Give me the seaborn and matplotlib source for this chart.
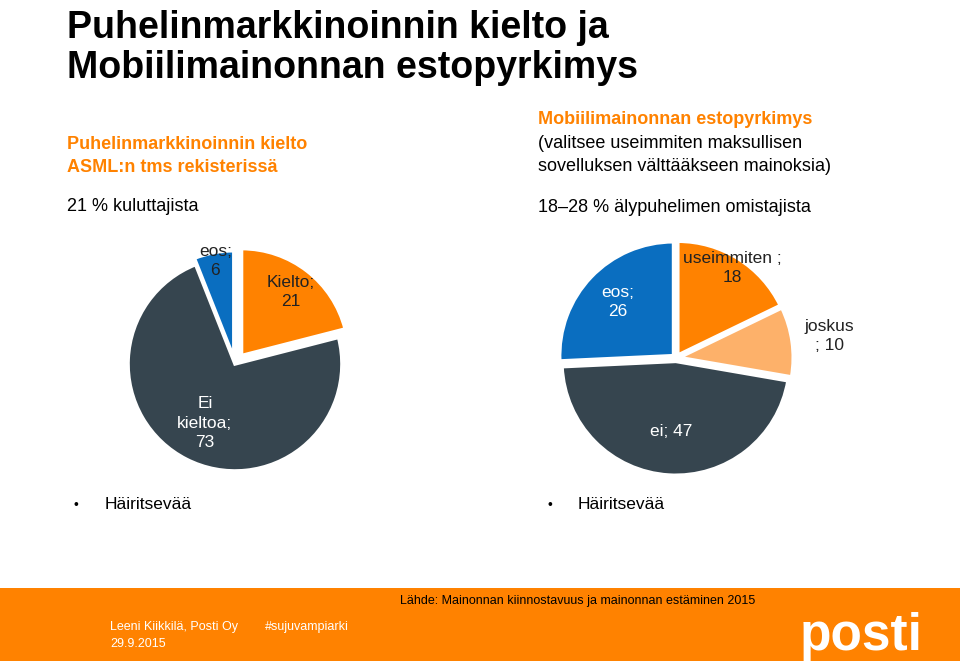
import matplotlib
matplotlib.use("Agg")
import matplotlib.pyplot as plt
from matplotlib.patches import Rectangle
import numpy as np
import seaborn as sns

# Data
ban_labels = ["Kielto", "Ei\nkieltoa", "eos"]
ban_values = [21, 73, 6]
block_labels = ["useimmiten ", "joskus\n", "ei", "eos"]
block_values = [18, 10, 47, 26]

ORANGE = "#FF8200"
LIGHT_ORANGE = "#FDB16A"
SLATE = "#36454F"
BLUE = "#0A6EC0"

sns.set_theme(style="white")
plt.rcParams["font.family"] = ["Liberation Sans", "DejaVu Sans"]

W, H = 960, 661
fig = plt.figure(figsize=(W / 100, H / 100), dpi=100)


def px_axes(cx, cy, size):
    # axes square centred at pixel (cx, cy) measured from top-left
    return fig.add_axes([(cx - size / 2) / W, (H - cy - size / 2) / H, size / W, size / H])


def draw_pie(ax, labels, values, colors, explode, label_r, label_colors, seps):
    wedges, _ = ax.pie(values, colors=colors, startangle=90, counterclock=False,
                       explode=explode,
                       wedgeprops=dict(edgecolor="white", linewidth=2.5))
    for w, lab, val, r, c, sep in zip(wedges, labels, values, label_r, label_colors, seps):
        ang = np.deg2rad((w.theta1 + w.theta2) / 2)
        cx, cy = w.center
        ax.text(cx + r * np.cos(ang), cy + r * np.sin(ang), f"{lab};{sep}{val}",
                ha="center", va="center", color=c, fontsize=12.5, linespacing=1.35)
    ax.set_xlim(-1.3, 1.3)
    ax.set_ylim(-1.3, 1.3)
    ax.set_aspect("equal")
    ax.axis("off")


ax1 = px_axes(235, 364, 278)
draw_pie(ax1, ban_labels, ban_values, [ORANGE, SLATE, BLUE],
         explode=[0.1, 0, 0.06], label_r=[0.75, 0.62, 0.92],
         label_colors=["#222222", "white", "#222222"], seps=["\n", "\n", "\n"])

ax2 = px_axes(676, 358, 296)
draw_pie(ax2, block_labels, block_values, [ORANGE, LIGHT_ORANGE, SLATE, BLUE],
         explode=[0.03, 0.03, 0.03, 0.03], label_r=[0.9, 1.33, 0.62, 0.68],
         label_colors=["#222222", "#222222", "white", "white"],
         seps=["\n", " ", " ", "\n"])

# Titles and texts
def ftext(x, y, s, **kw):
    fig.text(x / W, 1 - y / H, s, va="baseline", **kw)

ftext(67, 38, "Puhelinmarkkinoinnin kielto ja", fontsize=27, fontweight="bold",
      color="black")
ftext(67, 78, "Mobiilimainonnan estopyrkimys", fontsize=27, fontweight="bold",
      color="black")

ftext(67, 149, "Puhelinmarkkinoinnin kielto", fontsize=13, fontweight="bold", color=ORANGE)
ftext(67, 172, "ASML:n tms rekisterissä", fontsize=13, fontweight="bold", color=ORANGE)
ftext(67, 211, "21 % kuluttajista", fontsize=13, color="black")

ftext(538, 124, "Mobiilimainonnan estopyrkimys", fontsize=13, fontweight="bold", color=ORANGE)
ftext(538, 148, "(valitsee useimmiten maksullisen", fontsize=13, color="black")
ftext(538, 171, "sovelluksen välttääkseen mainoksia)", fontsize=13, color="black")
ftext(538, 212, "18\u201328 % älypuhelimen omistajista", fontsize=13, color="black")

ftext(74, 509, "\u2022", fontsize=10, color="black")
ftext(105, 509, "Häiritsevää", fontsize=12.5, color="black")
ftext(548, 509, "\u2022", fontsize=10, color="black")
ftext(578, 509, "Häiritsevää", fontsize=12.5, color="black")

# Footer band
fig.patches.append(Rectangle((0, 0), 1, 73 / H, transform=fig.transFigure,
                             facecolor=ORANGE, edgecolor="none", zorder=0))
ftext(400, 604, "Lähde: Mainonnan kiinnostavuus ja mainonnan estäminen 2015",
      fontsize=9, color="black")
ftext(110, 630, "Leeni Kiikkilä, Posti Oy", fontsize=9, color="white")
ftext(265, 630, "#sujuvampiarki", fontsize=9, color="white")
ftext(110, 647, "29.9.2015", fontsize=9, color="white")
ftext(800, 650, "posti", fontsize=37, fontweight="bold", color="white")

fig.savefig("out.png", dpi=100, facecolor="white")
